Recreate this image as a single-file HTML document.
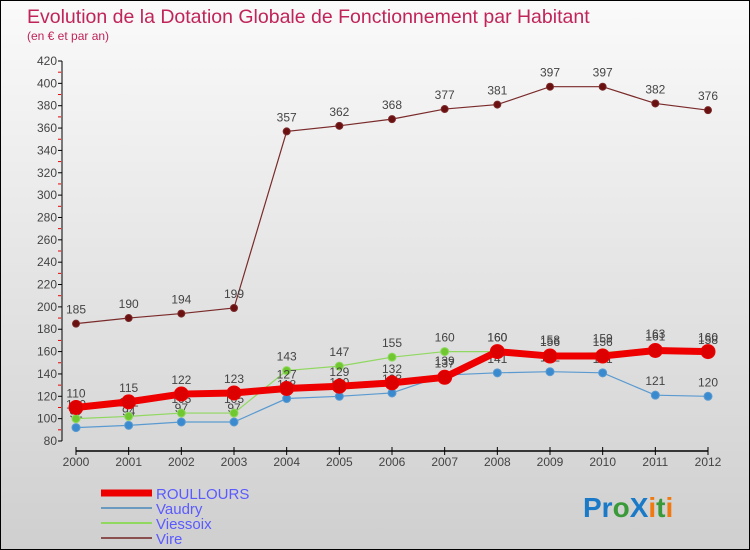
<!DOCTYPE html>
<html><head><meta charset="utf-8"><style>
body{margin:0;}
#wrap{width:750px;height:550px;position:relative;box-sizing:border-box;border:1px solid #000;background:linear-gradient(#fafafa,#cfcfcf);font-family:"Liberation Sans",sans-serif;overflow:hidden;}
svg{position:absolute;left:0;top:0;}
</style></head><body>
<div id="wrap">
<svg id="c" width="750" height="550">
<text x="26" y="22" font-size="19.5" fill="#c0245a">Evolution de la Dotation Globale de Fonctionnement par Habitant</text>
<text x="26" y="39" font-size="12" fill="#c0245a">(en € et par an)</text>
<g id="axes"></g><g id="series"></g><g id="legend"></g>
<text x="582" y="516" font-size="28" font-weight="bold"><tspan fill="#1a7ac8">Pr</tspan><tspan fill="#3a9a3a">o</tspan><tspan fill="#1a7ac8">X</tspan><tspan fill="#f07a10">i</tspan><tspan fill="#3a9a3a">t</tspan><tspan fill="#f07a10">i</tspan></text>
</svg>
</div>
<script>
const years=[2000,2001,2002,2003,2004,2005,2006,2007,2008,2009,2010,2011,2012];
const roullours=[110,115,122,123,127,129,132,137,160,156,156,161,160];
const vaudry=[92,94,97,97,118,120,123,139,141,142,141,121,120];
const viessoix=[100,102,105,105,143,147,155,160,160,158,159,163,158];
const vire=[185,190,194,199,357,362,368,377,381,397,397,382,376];
const yTicks=[80,100,120,140,160,180,200,220,240,260,280,300,320,340,360,380,400,420];
const NS="http://www.w3.org/2000/svg";
const X=i=>75+i*(632/12);
const Y=v=>440-(v-80)*(380/340);
function mk(t,a,p){const e=document.createElementNS(NS,t);for(const k in a)e.setAttribute(k,a[k]);p.appendChild(e);return e;}
const ax=document.getElementById('axes');
let l=mk('line',{x1:61,y1:60,x2:61,y2:440,stroke:'#000'},ax);


yTicks.forEach((v,i)=>{
 mk('line',{x1:57,y1:Y(v),x2:61,y2:Y(v),stroke:'#000'},ax);
 if(i<yTicks.length-1)mk('line',{x1:57,y1:Y(v+10),x2:60,y2:Y(v+10),stroke:'#e00'},ax);
 const t=mk('text',{x:56,y:Y(v)+4,'font-size':12,'text-anchor':'end',fill:'#444'},ax);
 t.textContent=v;
 
 
});
l=mk('line',{x1:75,y1:450,x2:707,y2:450,stroke:'#000','stroke-width':1.5},ax);


years.forEach((y,i)=>{
 mk('line',{x1:X(i),y1:446,x2:X(i),y2:454,stroke:'#000'},ax);
 const t=mk('text',{x:X(i),y:465,'font-size':12,'text-anchor':'middle',fill:'#444'},ax);
 t.textContent=y;
 
 
});
const sg=document.getElementById('series');
function draw(name,vals,color,w,r,dot){
 const g=mk('g',{},sg);
 
 
 mk('polyline',{points:vals.map((v,i)=>X(i)+','+Y(v)).join(' '),fill:'none',stroke:color,'stroke-width':w},g);
 vals.forEach((v,i)=>{
  const c=mk('circle',{cx:X(i),cy:Y(v),r:r,fill:dot,stroke:color,'stroke-width':1},g);
  
  
  const t=mk('text',{x:X(i),y:Y(v)-10,'font-size':12,'text-anchor':'middle',fill:'#444'},g);
  t.textContent=v;
  
  
 });
}
draw('vire',vire,'#7a2a2a',1.2,3.5,'#6a1010');
draw('vaudry',vaudry,'#5a9ad0',1.2,4,'#3a8ad0');
draw('viessoix',viessoix,'#90d860',1.2,4,'#70c830');
draw('roullours',roullours,'#ee0000',7,7,'#dd0000');
const lg=document.getElementById('legend');
[['ROULLOURS','#ee0000',7],['Vaudry','#6a9ac0',2],['Viessoix','#90d860',2],['Vire','#8a5050',2]].forEach((d,i)=>{
 const y=492+i*15;
 const g=mk('g',{},lg);
 
 
 mk('line',{x1:100,y1:y,x2:151,y2:y,stroke:d[1],'stroke-width':d[2]},g);
 const t=mk('text',{x:155,y:y+6,'font-size':15,fill:'#5a5aff'},g);
 t.textContent=d[0];
});
</script>
</body></html>
